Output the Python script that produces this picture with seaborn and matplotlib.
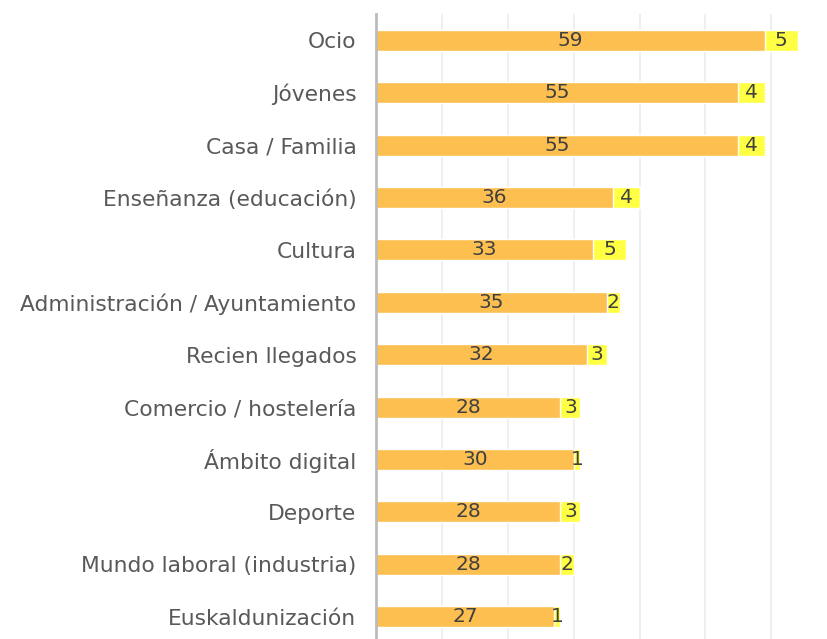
import numpy as np
import pandas as pd
import matplotlib
matplotlib.use("Agg")
import matplotlib.pyplot as plt
import seaborn as sns

categories = [
    "Ocio", "Jóvenes", "Casa / Familia", "Enseñanza (educación)", "Cultura",
    "Administración / Ayuntamiento", "Recien llegados", "Comercio / hostelería",
    "Ámbito digital", "Deporte", "Mundo laboral (industria)", "Euskaldunización",
]
serie_a = [59, 55, 55, 36, 33, 35, 32, 28, 30, 28, 28, 27]
serie_b = [5, 4, 4, 4, 5, 2, 3, 3, 1, 3, 2, 1]

df = pd.DataFrame({"cat": categories, "a": serie_a, "b": serie_b})
df["total"] = df["a"] + df["b"]

sns.set_theme(style="white")
plt.rcParams['font.family'] = ['DejaVu Sans']

fig = plt.figure(figsize=(8.28, 6.39), dpi=100)
ax = fig.add_axes([0.454, -0.006, 0.546, 0.984])

orange = "#fdbf50"
yellow = "#ffff44"

sns.barplot(data=df, y="cat", x="total", orient="h", color=yellow,
            saturation=1, width=0.4, ax=ax)
sns.barplot(data=df, y="cat", x="a", orient="h", color=orange,
            saturation=1, width=0.4, ax=ax)

# labels centred in each segment
ax.bar_label(ax.containers[1], labels=[str(v) for v in serie_a],
             label_type="center", fontsize=14.5, color="#404040")
for i, (a, b) in enumerate(zip(serie_a, serie_b)):
    ax.text(a + b / 2, i, str(b), ha="center", va="center",
            fontsize=14.5, color="#404040")

ax.set_xlim(0, 68.6)
ax.set_ylim(11.5, -0.5)
ax.set_xticks(np.arange(10, 70, 10))
ax.xaxis.grid(True, color="#ececec", linewidth=1.2)
ax.set_axisbelow(True)
ax.tick_params(axis="x", labelbottom=False, length=0)
ax.tick_params(axis="y", length=0, pad=14, labelsize=15.7, labelcolor="#595959")
ax.set_xlabel("")
ax.set_ylabel("")
for s in ["top", "right", "bottom"]:
    ax.spines[s].set_visible(False)
ax.spines["left"].set_color("#bbbbbb")
ax.spines["left"].set_linewidth(2)

fig.savefig("out.png", dpi=100)
